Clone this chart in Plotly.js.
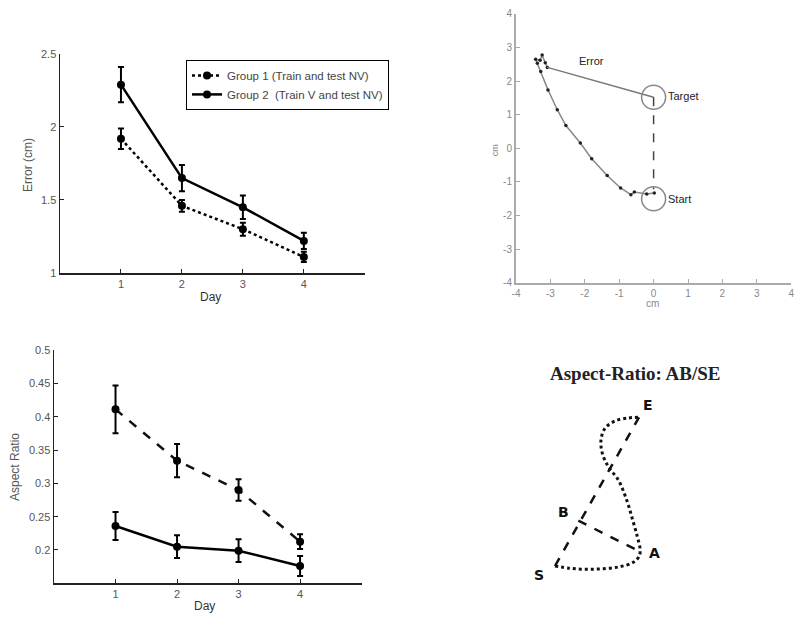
<!DOCTYPE html>
<html>
<head>
<meta charset="utf-8">
<script src="https://cdn.plot.ly/plotly-3.0.1.min.js"></script>
<style>
  html, body { margin: 0; padding: 0; background: #fff; }
  #chart { width: 800px; height: 624px; }
</style>
</head>
<body>
<div id="chart"></div>
<script>
// top-left: reach error per day
const days = [1, 2, 3, 4];
const dayTicks = ['1', '2', '3', '4'];
const errGroup1 = [1.92, 1.46, 1.30, 1.11];
const errGroup1Sd = [0.07, 0.04, 0.045, 0.035];
const errGroup2 = [2.29, 1.65, 1.45, 1.22];
const errGroup2Sd = [0.12, 0.09, 0.08, 0.055];
const errTicks = [1, 1.5, 2, 2.5];

// bottom-left: aspect ratio per day
const aspectDashed = [0.411, 0.334, 0.290, 0.2125];
const aspectDashedSd = [0.036, 0.025, 0.016, 0.011];
const aspectSolid = [0.236, 0.205, 0.199, 0.176];
const aspectSolidSd = [0.021, 0.017, 0.017, 0.015];
const aspectTicks = [0.2, 0.25, 0.3, 0.35, 0.4, 0.45, 0.5];

// top-right: example hand path (cm)
const pathX = [0.02, -0.2, -0.56, -0.66, -0.96, -1.35, -1.8, -2.13, -2.55, -2.8, -3.07, -3.28, -3.38, -3.43, -3.3, -3.24, -3.15, -3.09];
const pathY = [-1.33, -1.36, -1.3, -1.38, -1.18, -0.81, -0.31, 0.16, 0.68, 1.15, 1.74, 2.29, 2.53, 2.65, 2.62, 2.78, 2.55, 2.41];
const errorLineX = [-3.09, 0];
const errorLineY = [2.41, 1.52];
const guideX = [0, 0];
const guideY = [1.52, -1.22];
const targetXY = [0, 1.52];
const startXY = [0, -1.5];
const cmTicks = [-4, -3, -2, -1, 0, 1, 2, 3, 4];
const cmTickText = ['-4', '-3', '-2', '-1', '0', '1', '2', '3', '4'];

// bottom-right: aspect ratio sketch (arbitrary units)
const curveX = [0, 4.5, 9.5, 14.5, 19.5, 23.5, 25.3, 25.5, 24.7, 23.3, 21.5, 19, 16, 14.2, 13.8, 15, 18, 22, 25.2];
const curveY = [0, -0.7, -1.0, -0.8, -0.2, 1.1, 3.0, 5.3, 8.8, 13.8, 19.8, 25.8, 29.8, 33.8, 37.8, 41.3, 43.5, 44.4, 44.6];
const pointS = [0, 0];
const pointE = [25.2, 44.6];
const pointA = [25.5, 4.3];
const pointB = [7, 13.6];

const grayText = '#555';
const font = 'Liberation Sans, Arial, sans-serif';

const traces = [
  {
    x: days, y: errGroup1, xaxis: 'x', yaxis: 'y',
    name: 'Group 1 (Train and test NV)', type: 'scatter', mode: 'lines+markers',
    line: { color: '#000', width: 2.5, dash: 'dot' },
    marker: { color: '#000', size: 8 },
    error_y: { type: 'data', array: errGroup1Sd, color: '#000', thickness: 2, width: 3 }
  },
  {
    x: days, y: errGroup2, xaxis: 'x', yaxis: 'y',
    name: 'Group 2  (Train V and test NV)', type: 'scatter', mode: 'lines+markers',
    line: { color: '#000', width: 2.5 },
    marker: { color: '#000', size: 8 },
    error_y: { type: 'data', array: errGroup2Sd, color: '#000', thickness: 2, width: 3 }
  },
  {
    x: days, y: aspectDashed, xaxis: 'x3', yaxis: 'y3', showlegend: false,
    type: 'scatter', mode: 'lines+markers',
    line: { color: '#111', width: 2.5, dash: 'dash' },
    marker: { color: '#000', size: 8 },
    error_y: { type: 'data', array: aspectDashedSd, color: '#000', thickness: 2, width: 3 }
  },
  {
    x: days, y: aspectSolid, xaxis: 'x3', yaxis: 'y3', showlegend: false,
    type: 'scatter', mode: 'lines+markers',
    line: { color: '#000', width: 2.5 },
    marker: { color: '#000', size: 8 },
    error_y: { type: 'data', array: aspectSolidSd, color: '#000', thickness: 2, width: 3 }
  },
  {
    x: pathX, y: pathY, xaxis: 'x2', yaxis: 'y2', showlegend: false,
    type: 'scatter', mode: 'lines+markers',
    line: { color: '#888', width: 1.5 },
    marker: { color: '#222', size: 3.5 }
  },
  {
    x: errorLineX, y: errorLineY, xaxis: 'x2', yaxis: 'y2', showlegend: false,
    type: 'scatter', mode: 'lines', line: { color: '#777', width: 1.5 }
  },
  {
    x: guideX, y: guideY, xaxis: 'x2', yaxis: 'y2', showlegend: false,
    type: 'scatter', mode: 'lines', line: { color: '#444', width: 1.5, dash: 'dash' }
  },
  {
    x: [targetXY[0], startXY[0]], y: [targetXY[1], startXY[1]], xaxis: 'x2', yaxis: 'y2',
    showlegend: false, type: 'scatter', mode: 'markers',
    marker: { symbol: 'circle-open', size: 24, color: '#888', line: { width: 1.5 } }
  },
  {
    x: curveX, y: curveY, xaxis: 'x4', yaxis: 'y4', showlegend: false,
    type: 'scatter', mode: 'lines', line: { color: '#111', width: 3, dash: 'dot', shape: 'spline' }
  },
  {
    x: [pointS[0], pointE[0]], y: [pointS[1], pointE[1]], xaxis: 'x4', yaxis: 'y4', showlegend: false,
    type: 'scatter', mode: 'lines', line: { color: '#111', width: 2.5, dash: 'dash' }
  },
  {
    x: [pointB[0], pointA[0]], y: [pointB[1], pointA[1]], xaxis: 'x4', yaxis: 'y4', showlegend: false,
    type: 'scatter', mode: 'lines', line: { color: '#111', width: 2.5, dash: 'dash' }
  }
];

const baseAxis = {
  showgrid: false, zeroline: false, showline: true, linecolor: '#222', linewidth: 1.5,
  ticks: 'inside', ticklen: 4, tickcolor: '#222', tickfont: { family: font, size: 11, color: grayText }
};

const cmAxis = {
  showgrid: false, zeroline: false, showline: true, linecolor: '#aaa', linewidth: 2,
  ticks: 'inside', ticklen: 4, tickcolor: '#aaa', tickfont: { family: font, size: 10, color: '#888' },
  range: [-4, 4], tickvals: cmTicks, ticktext: cmTickText
};

const hiddenAxis = { visible: false, showgrid: false, zeroline: false };

function ann(text, x, y, opts) {
  return Object.assign({ text: text, x: x, y: y, xref: 'paper', yref: 'paper', showarrow: false,
    xanchor: 'center', yanchor: 'middle',
    font: { family: font, size: 12, color: grayText } }, opts || {});
}

const bold = { family: 'DejaVu Sans, sans-serif', size: 14, color: '#111', weight: 'bold' };

const layout = {
  width: 800, height: 624,
  margin: { l: 0, r: 0, t: 0, b: 0 },
  paper_bgcolor: '#fff', plot_bgcolor: '#fff',
  showlegend: true,
  legend: {
    x: 0.2325, y: 0.904, xanchor: 'left', yanchor: 'top',
    bordercolor: '#000', borderwidth: 1, bgcolor: '#fff',
    font: { family: font, size: 11.5, color: '#444' },
    tracegroupgap: 0, itemwidth: 30
  },
  xaxis: Object.assign({}, baseAxis, { domain: [0.075, 0.456], range: [0, 5], tickvals: days, ticktext: dayTicks, anchor: 'y' }),
  yaxis: Object.assign({}, baseAxis, { domain: [0.5625, 0.9135], range: [1, 2.5], tickvals: errTicks, anchor: 'x' }),
  xaxis2: Object.assign({}, cmAxis, { domain: [0.645, 0.989], anchor: 'y2' }),
  yaxis2: Object.assign({}, cmAxis, { domain: [0.547, 0.9776], anchor: 'x2' }),
  xaxis3: Object.assign({}, baseAxis, { domain: [0.0675, 0.452], range: [0, 5], tickvals: days, ticktext: dayTicks, anchor: 'y3' }),
  yaxis3: Object.assign({}, baseAxis, { domain: [0.0652, 0.439], range: [0.15, 0.5], tickvals: aspectTicks, anchor: 'x3' }),
  xaxis4: Object.assign({}, hiddenAxis, { domain: [0.65, 0.9], range: [-10.5, 49.5], anchor: 'y4' }),
  yaxis4: Object.assign({}, hiddenAxis, { domain: [0.03846, 0.4231], range: [-10.2, 61.8], anchor: 'x4' }),
  annotations: [
    ann('Error (cm)', 0.035, 0.7356, { textangle: -90 }),
    ann('Day', 0.2625, 0.524, { font: { family: font, size: 12, color: '#333' } }),
    ann('Aspect Ratio', 0.01875, 0.2516, { textangle: -90 }),
    ann('Day', 0.256, 0.0288, { font: { family: font, size: 12, color: '#333' } }),
    ann('cm', 0.619, 0.7596, { textangle: -90, font: { family: font, size: 9, color: '#888' } }),
    ann('cm', 0.816, 0.514, { font: { family: font, size: 10, color: '#888' } }),
    { text: 'Error', x: -1.8, y: 2.6, xref: 'x2', yref: 'y2', showarrow: false, font: { family: font, size: 11, color: '#222' } },
    { text: 'Target', x: 0.35, y: 1.55, xref: 'x2', yref: 'y2', xanchor: 'left', showarrow: false, font: { family: font, size: 11, color: '#222' } },
    { text: 'Start', x: 0.35, y: -1.5, xref: 'x2', yref: 'y2', xanchor: 'left', showarrow: false, font: { family: font, size: 11, color: '#222' } },
    ann('Aspect-Ratio: AB/SE', 0.79375, 0.4022, {
      font: { family: 'Liberation Serif, Times New Roman, serif', size: 19, color: '#222', weight: 'bold' } }),
    { text: 'S', x: pointS[0], y: pointS[1], xref: 'x4', yref: 'y4', xshift: -16, yshift: -9, showarrow: false, font: bold },
    { text: 'E', x: pointE[0], y: pointE[1], xref: 'x4', yref: 'y4', xshift: 9, yshift: 12, showarrow: false, font: bold },
    { text: 'A', x: pointA[0], y: pointA[1], xref: 'x4', yref: 'y4', xshift: 14, yshift: -1, showarrow: false, font: bold },
    { text: 'B', x: pointB[0], y: pointB[1], xref: 'x4', yref: 'y4', xshift: -15, yshift: 9, showarrow: false, font: bold }
  ]
};

Plotly.newPlot('chart', traces, layout, { displayModeBar: false, staticPlot: true });
</script>
</body>
</html>
